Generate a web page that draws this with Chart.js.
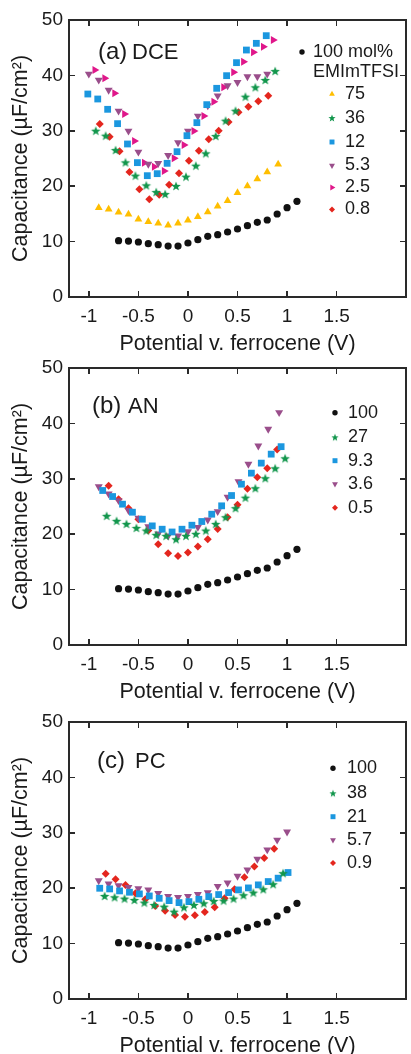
<!DOCTYPE html>
<html><head><meta charset="utf-8">
<script src="https://cdn.jsdelivr.net/npm/chart.js@4.4.1/dist/chart.umd.min.js"></script>
<style>
html,body{margin:0;padding:0;background:#fff;width:411px;height:1054px;overflow:hidden;position:relative;}
canvas{position:absolute;left:0;}
.ln{position:absolute;background:#2a2a2a;pointer-events:none;}
</style></head><body>
<canvas id="ca" width="411" height="360" style="top:0px"></canvas>
<canvas id="cb" width="411" height="360" style="top:348px"></canvas>
<canvas id="cc" width="411" height="360" style="top:702px"></canvas>
<script>
// ---------- tick labels ----------
const xTickValues = [-1, -0.5, 0, 0.5, 1, 1.5];
const xTickLabels = ['-1', '-0.5', '0', '0.5', '1', '1.5'];
const yTickValues = [0, 10, 20, 30, 40, 50];
const yTickLabels = ['0', '10', '20', '30', '40', '50'];

// ---------- 100 mol% EMImTFSI (same in all panels) ----------
const x100 = [-0.7,-0.6,-0.5,-0.4,-0.3,-0.2,-0.1,0,0.1,0.2,0.3,0.4,0.5,0.6,0.7,0.8,0.9,1.0,1.1];
const c100 = [10.17,10.1,9.93,9.63,9.45,9.2,9.2,9.75,10.35,10.95,11.25,11.73,12.27,12.88,13.48,13.9,14.98,16.12,17.27];

// ---------- (a) DCE ----------
const seriesA = ['100 mol%', '75', '36', '12', '5.3', '2.5', '0.8'];
const xA75 = [-0.9,-0.8,-0.7,-0.6,-0.5,-0.4,-0.3,-0.2,-0.1,0,0.1,0.2,0.3,0.4,0.5,0.6,0.7,0.8,0.91];
const cA75 = [16.12,15.82,15.28,14.92,14.02,13.6,13.3,12.94,13.3,13.84,14.5,15.34,16.37,17.39,18.83,20.04,21.3,22.56,23.95];
const xA36 = [-0.93,-0.83,-0.73,-0.63,-0.53,-0.42,-0.32,-0.23,-0.12,-0.02,0.08,0.18,0.28,0.38,0.48,0.58,0.68,0.78,0.88];
const cA36 = [30.02,29.12,26.53,24.31,21.9,20.16,18.95,18.59,20.04,21.72,23.71,25.93,29.06,31.83,33.63,36.16,37.85,39.17,40.79];
const xA12 = [-1.01,-0.91,-0.81,-0.71,-0.61,-0.51,-0.41,-0.31,-0.21,-0.11,-0.01,0.09,0.19,0.29,0.39,0.49,0.59,0.69,0.79];
const cA12 = [36.64,35.74,33.88,31.29,27.62,24.25,21.9,22.26,24.13,26.23,29.12,31.47,34.72,37.67,39.95,42.3,44.58,45.79,47.17];
const xA53 = [-1.0,-0.9,-0.8,-0.7,-0.6,-0.5,-0.4,-0.3,-0.2,-0.1,0,0.1,0.2,0.3,0.4,0.5,0.6,0.7,0.8];
const cA53 = [40.25,39.17,37.36,33.57,29.96,26.17,24.0,24.13,25.57,27.86,29.96,32.67,34.54,36.34,38.15,38.75,39.77,39.77,40.25];
const xA25 = [-0.94,-0.84,-0.74,-0.64,-0.54,-0.44,-0.34,-0.24,-0.14,-0.04,0.06,0.16,0.26,0.36,0.46,0.56,0.66,0.76,0.86];
const cA25 = [40.97,39.47,36.76,33.03,28.16,24.25,23.53,22.74,25.03,27.44,29.96,32.67,35.26,37.85,40.55,42.48,44.16,45.19,46.39];
const xA08 = [-0.89,-0.79,-0.69,-0.59,-0.49,-0.39,-0.29,-0.19,-0.09,0.01,0.11,0.21,0.31,0.41,0.51,0.61,0.71,0.81];
const cA08 = [31.23,28.94,26.29,22.56,19.43,17.63,18.47,20.28,22.32,24.61,26.41,28.46,30.02,31.59,33.33,34.36,35.32,36.34];

// ---------- (b) AN ----------
const seriesB = ['100', '27', '9.3', '3.6', '0.5'];
const xB27 = [-0.82,-0.72,-0.62,-0.52,-0.42,-0.32,-0.22,-0.12,-0.02,0.08,0.18,0.28,0.38,0.48,0.58,0.68,0.78,0.88,0.98];
const cB27 = [23.31,22.41,21.86,21.14,20.66,19.88,19.7,19.09,19.7,20.06,20.66,21.86,23.07,24.7,26.6,28.3,30.1,31.9,33.7];
const xB93 = [-0.86,-0.76,-0.66,-0.56,-0.46,-0.36,-0.26,-0.16,-0.06,0.04,0.14,0.24,0.34,0.44,0.54,0.64,0.74,0.84,0.94];
const cB93 = [27.89,26.8,25.42,23.97,22.71,21.5,20.9,20.4,20.9,21.62,22.29,23.61,25.12,26.98,29.03,31.02,32.83,34.45,35.8];
const xB36 = [-0.9,-0.8,-0.7,-0.6,-0.5,-0.4,-0.3,-0.2,-0.1,0,0.1,0.2,0.3,0.4,0.51,0.61,0.71,0.81,0.92];
const cB36 = [28.6,27.29,26.08,24.3,22.9,21.4,20.05,19.7,19.7,20.48,21.26,22.59,24.1,26.7,29.5,32.65,35.96,38.97,41.98];
const xB05 = [-0.8,-0.7,-0.6,-0.5,-0.4,-0.3,-0.2,-0.1,0,0.1,0.2,0.3,0.4,0.5,0.6,0.7,0.8,0.9];
const cB05 = [28.73,26.32,24.7,22.71,20.66,18.2,16.56,16.08,16.68,17.77,19.09,20.96,23.07,25.3,28.2,30.3,31.92,35.3];

// ---------- (c) PC ----------
const seriesC = ['100', '38', '21', '5.7', '0.9'];
const xC38 = [-0.84,-0.74,-0.64,-0.54,-0.44,-0.34,-0.24,-0.14,-0.04,0.06,0.16,0.26,0.36,0.46,0.56,0.66,0.76,0.86,0.96];
const cC38 = [18.6,18.36,18.12,17.88,17.4,16.97,16.67,15.77,16.55,16.97,17.28,17.7,17.76,18.12,18.73,19.21,19.81,20.72,22.71];
const xC21 = [-0.89,-0.79,-0.69,-0.59,-0.49,-0.39,-0.29,-0.19,-0.09,0.01,0.11,0.21,0.31,0.41,0.51,0.61,0.71,0.81,0.91,1.01];
const cC21 = [19.99,19.87,19.51,19.27,18.97,18.6,18.18,17.76,17.4,17.58,18.0,18.48,18.85,19.21,19.69,20.05,20.6,21.2,21.81,22.83];
const xC57 = [-0.9,-0.8,-0.7,-0.6,-0.5,-0.4,-0.3,-0.2,-0.1,0,0.1,0.2,0.3,0.4,0.5,0.6,0.7,0.8,0.9,1.0];
const cC57 = [21.38,20.78,20.48,20.18,19.93,19.69,19.09,18.55,18.37,18.55,18.88,19.21,20.36,20.96,22.19,23.3,25.25,26.95,28.7,30.17];
const xC09 = [-0.83,-0.73,-0.63,-0.53,-0.43,-0.33,-0.23,-0.13,-0.03,0.07,0.17,0.27,0.37,0.47,0.57,0.67,0.77,0.87];
const cC09 = [22.59,21.62,20.6,19.09,18.0,16.79,15.95,15.16,14.86,15.1,15.71,16.55,18.18,19.81,21.99,23.92,25.43,27.12];

// ---------- styles ----------
const FONT = "'Liberation Sans', Arial, Helvetica, sans-serif";
const TEXT = '#1a1a1a';
const AXIS = '#2a2a2a';
const TICK = 6;
Chart.defaults.font.family = FONT;

function makeStar(R, color) {
  const c = document.createElement('canvas');
  const s = Math.ceil(R * 2 + 2);
  c.width = s; c.height = s;
  const g = c.getContext('2d');
  const cx = s / 2, cy = s / 2 + R * 0.1, r = R * 0.42;
  g.beginPath();
  for (let i = 0; i < 10; i++) {
    const an = -Math.PI / 2 + i * Math.PI / 5;
    const rr = i % 2 ? r : R;
    g.lineTo(cx + rr * Math.cos(an), cy + rr * Math.sin(an));
  }
  g.closePath();
  g.fillStyle = color; g.fill();
  return c;
}

const ST = {
  black:  {color:'#111111', style:'circle',   rot:0,   r:3.6, lr:2.7},
  yellow: {color:'#FFBE00', style:'triangle', rot:0,   r:4.5, lr:3.3},
  green:  {color:'#12964C', style:'star',     rot:0,   r:5.0, lr:3.8},
  blue:   {color:'#1B97DF', style:'rect',     rot:0,   r:4.8, lr:3.5},
  purple: {color:'#9A4E8B', style:'triangle', rot:180, r:4.6, lr:3.4},
  pink:   {color:'#E0178A', style:'triangle', rot:90,  r:4.6, lr:3.4},
  red:    {color:'#E4261E', style:'rectRot',  rot:0,   r:4.0, lr:3.0}
};

function mkDs(label, xs, ys, st) {
  const star = st.style === 'star';
  return {
    label,
    data: xs.map((x, i) => ({x, y: ys[i]})),
    showLine: false,
    pointStyle: star ? makeStar(st.r, st.color) : st.style,
    legendStyle: star ? makeStar(st.lr, st.color) : st.style,
    legendRadius: st.lr,
    pointRotation: st.rot,
    pointRadius: st.r,
    pointHoverRadius: st.r,
    backgroundColor: st.color,
    borderColor: st.color,
    borderWidth: 0,
    pointBorderWidth: 0
  };
}

function drawMarker(ctx, d, x, y) {
  const ps = d.legendStyle;
  ctx.fillStyle = d.backgroundColor;
  if (typeof ps === 'object') { ctx.drawImage(ps, x - ps.width / 2, y - ps.height / 2); return; }
  ctx.beginPath();
  Chart.helpers.drawPoint(ctx, {pointStyle: ps, radius: d.legendRadius, rotation: d.pointRotation || 0, borderWidth: 0}, x, y);
}

// thin DOM line helper (frame and inward ticks placed from the chart's own scales)
function addLine(left, top, w, h) {
  const d = document.createElement('div');
  d.className = 'ln';
  d.style.left = left + 'px'; d.style.top = top + 'px';
  d.style.width = w + 'px'; d.style.height = h + 'px';
  document.body.appendChild(d);
}
function addFrame(chart, offsetTop) {
  const sx = chart.scales.x, sy = chart.scales.y;
  const L0 = sx.getPixelForValue(sx.min), R0 = sx.getPixelForValue(sx.max);
  const T0 = sy.getPixelForValue(sy.max) + offsetTop, B0 = sy.getPixelForValue(sy.min) + offsetTop;
  const W = 1.5, h = W / 2;
  addLine(L0 - h, T0 - h, R0 - L0 + W, W);
  addLine(L0 - h, B0 - h, R0 - L0 + W, W);
  addLine(L0 - h, T0 - h, W, B0 - T0 + W);
  addLine(R0 - h, T0 - h, W, B0 - T0 + W);
  xTickValues.forEach(v => {
    const p = sx.getPixelForValue(v);
    addLine(p - h, B0 - TICK, W, TICK);
    addLine(p - h, T0, W, TICK);
  });
  yTickValues.forEach(v => {
    const p = sy.getPixelForValue(v) + offsetTop;
    addLine(L0, p - h, TICK, W);
    addLine(R0 - TICK, p - h, TICK, W);
  });
}

function makeChart(id, offsetTop, datasets, cfg) {
  const annot = {
    id: 'annot',
    afterDraw(chart) {
      const ctx = chart.ctx;
      ctx.save();
      ctx.fillStyle = TEXT;
      ctx.textBaseline = 'alphabetic';
      ctx.textAlign = 'left';
      ctx.font = '24px ' + FONT;
      ctx.fillText(cfg.tag[0], cfg.tagX, cfg.tagY);
      ctx.font = '22px ' + FONT;
      ctx.fillText(cfg.tag[1], cfg.tagX2, cfg.tagY);
      ctx.font = '18px ' + FONT;
      ctx.textBaseline = 'middle';
      chart.data.datasets.forEach((d, i) => {
        const e = cfg.legend[i];
        drawMarker(ctx, d, e[0], e[2]);
        ctx.fillStyle = TEXT;
        ctx.fillText(d.label, e[1], e[2]);
        if (e[3]) ctx.fillText(e[3], e[1], e[2] + 20);
      });
      ctx.restore();
    }
  };
  const chart = new Chart(document.getElementById(id), {
    type: 'scatter',
    data: {datasets},
    plugins: [annot],
    options: {
      responsive: false,
      animation: false,
      devicePixelRatio: 1,
      events: [],
      layout: {padding: {top: 20, right: 2, left: 0, bottom: 0}},
      plugins: {legend: {display: false}, tooltip: {enabled: false}},
      scales: {
        x: {
          type: 'linear', position: 'bottom', min: -1.2, max: 2.2,
          afterBuildTicks: s => { s.ticks = xTickValues.map(v => ({value: v})); },
          afterFit: s => { s.height = 63; },
          ticks: {callback: (v, i) => xTickLabels[i], font: {size: 19}, color: TEXT, padding: 8, maxRotation: 0, autoSkip: false},
          grid: {display: false, drawTicks: false},
          border: {display: true, color: AXIS, width: 1.4},
          title: {display: true, text: 'Potential v. ferrocene (V)', font: {size: 21.5}, color: TEXT, padding: {top: 0, bottom: 3}}
        },
        y: {
          type: 'linear', position: 'left', min: 0, max: 50,
          afterBuildTicks: s => { s.ticks = yTickValues.map(v => ({value: v})); },
          afterFit: s => { s.width = 69; },
          ticks: {callback: (v, i) => yTickLabels[i], font: {size: 19}, color: TEXT, padding: 6},
          grid: {display: false, drawTicks: false},
          border: {display: true, color: AXIS, width: 1.4},
          title: {display: true, text: 'Capacitance (µF/cm²)', font: {size: 21.5}, color: TEXT, padding: {top: 8, bottom: 0}}
        }
      }
    }
  });
  addFrame(chart, offsetTop);
  return chart;
}

makeChart('ca', 0, [
  mkDs(seriesA[0], x100, c100, ST.black),
  mkDs(seriesA[1], xA75, cA75, ST.yellow),
  mkDs(seriesA[2], xA36, cA36, ST.green),
  mkDs(seriesA[3], xA12, cA12, ST.blue),
  mkDs(seriesA[4], xA53, cA53, ST.purple),
  mkDs(seriesA[5], xA25, cA25, ST.pink),
  mkDs(seriesA[6], xA08, cA08, ST.red)
], {
  tag: ['(a)', 'DCE'], tagX: 98, tagX2: 132, tagY: 59,
  legend: [[302, 313, 52, 'EMImTFSI'], [332, 345, 94], [332, 345, 118], [332, 345, 142], [332, 345, 165.5], [332, 345, 187.5], [332, 345, 209.5]]
});

makeChart('cb', 348, [
  mkDs(seriesB[0], x100, c100, ST.black),
  mkDs(seriesB[1], xB27, cB27, ST.green),
  mkDs(seriesB[2], xB93, cB93, ST.blue),
  mkDs(seriesB[3], xB36, cB36, ST.purple),
  mkDs(seriesB[4], xB05, cB05, ST.red)
], {
  tag: ['(b)', 'AN'], tagX: 92, tagX2: 128, tagY: 65,
  legend: [[335, 348, 64.7], [335, 348, 89.3], [335, 348, 112.7], [335, 348, 136], [335, 348, 159.7]]
});

makeChart('cc', 702, [
  mkDs(seriesC[0], x100, c100, ST.black),
  mkDs(seriesC[1], xC38, cC38, ST.green),
  mkDs(seriesC[2], xC21, cC21, ST.blue),
  mkDs(seriesC[3], xC57, cC57, ST.purple),
  mkDs(seriesC[4], xC09, cC09, ST.red)
], {
  tag: ['(c)', 'PC'], tagX: 97, tagX2: 135, tagY: 66,
  legend: [[333, 347, 66.3], [333, 347, 91.3], [333, 347, 114.7], [333, 347, 138], [333, 347, 161]]
});
</script></body></html>
